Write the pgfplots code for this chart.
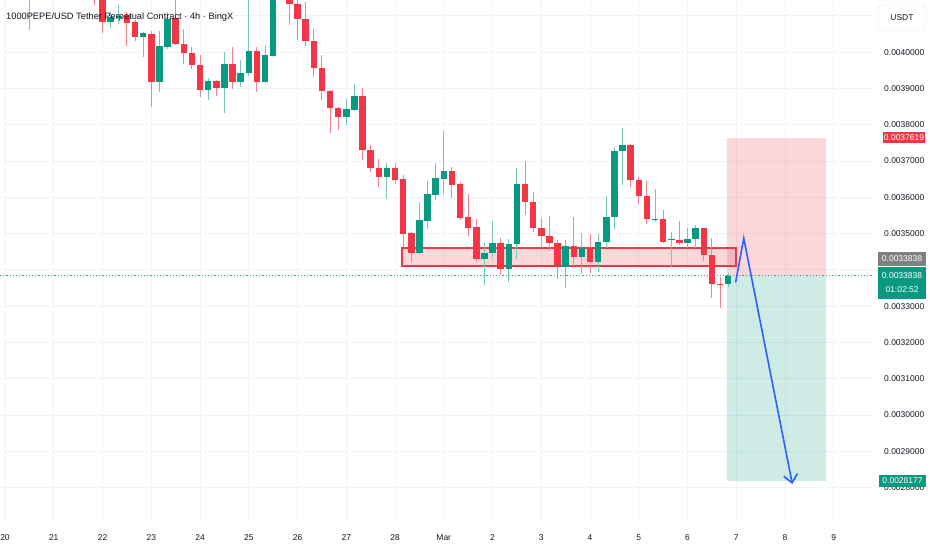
\documentclass[border=0pt]{standalone}
\usepackage{pgfplots}
\pgfplotsset{compat=1.18}
\usepackage{pgfplotstable}
\usepackage{fontspec}
\setmainfont{Liberation Sans}
\usetikzlibrary{arrows.meta}
\definecolor{tvred}{HTML}{F23645}
\definecolor{tvgreen}{HTML}{089981}
\definecolor{wickR}{HTML}{F5828C}
\definecolor{wickG}{HTML}{74C7B4}
\definecolor{gridc}{HTML}{F0F3FA}
\definecolor{txt}{HTML}{131722}
\definecolor{tvblue}{HTML}{2962FF}
\definecolor{tvgray}{HTML}{808080}
\definecolor{boxc}{HTML}{E0E3EB}
\definecolor{dotc}{HTML}{22A88E}

% t = hours since Feb 20 00:00 (4h candles); o h l c = open high low close (USDT)
\pgfplotstableread{
t o h l c
0 0.0042260 0.0042948 0.0041984 0.0042673
4 0.0042673 0.0042811 0.0042122 0.0042397
8 0.0042397 0.0043086 0.0042204 0.0042811
12 0.0041709 0.0042811 0.0040606 0.0042535
16 0.0042535 0.0042673 0.0041764 0.0041984
20 0.0041984 0.0042948 0.0041846 0.0042673
24 0.0042673 0.0042811 0.0041929 0.0042122
28 0.0042122 0.0042260 0.0041571 0.0041709
32 0.0041709 0.0042397 0.0041543 0.0042260
36 0.0042260 0.0042480 0.0041653 0.0041846
40 0.0041846 0.0042342 0.0041598 0.0042122
44 0.0042122 0.0042260 0.0041295 0.0041653
48 0.0041571 0.0041709 0.0040524 0.0040827
52 0.0040827 0.0041102 0.0040662 0.0040965
56 0.0040937 0.0041295 0.0040772 0.0040992
60 0.0041020 0.0041102 0.0040166 0.0040799
64 0.0040827 0.0040882 0.0040303 0.0040414
68 0.0040414 0.0040551 0.0039863 0.0040524
72 0.0040496 0.0040579 0.0038485 0.0039174
76 0.0039174 0.0040579 0.0038898 0.0040166
80 0.0040138 0.0041102 0.0040083 0.0040910
84 0.0040937 0.0041571 0.0040193 0.0040221
88 0.0040221 0.0040634 0.0039670 0.0039973
92 0.0039973 0.0040138 0.0039532 0.0039642
96 0.0039642 0.0039918 0.0038761 0.0038953
100 0.0038953 0.0039284 0.0038678 0.0039201
104 0.0039201 0.0039229 0.0038788 0.0039009
108 0.0039009 0.0040000 0.0038320 0.0039670
112 0.0039670 0.0040138 0.0038981 0.0039174
116 0.0039174 0.0039780 0.0039036 0.0039422
120 0.0039422 0.0041571 0.0039339 0.0040028
124 0.0040028 0.0040138 0.0038898 0.0039174
128 0.0039174 0.0040193 0.0039146 0.0039918
132 0.0039890 0.0042122 0.0039863 0.0041846
136 0.0041846 0.0042260 0.0041488 0.0041571
140 0.0041571 0.0041709 0.0040744 0.0041323
144 0.0041323 0.0041488 0.0040331 0.0040910
148 0.0040910 0.0041378 0.0040166 0.0040303
152 0.0040303 0.0040634 0.0039312 0.0039560
156 0.0039560 0.0039918 0.0038678 0.0038926
160 0.0038926 0.0038953 0.0037769 0.0038458
164 0.0038458 0.0038485 0.0037851 0.0038210
168 0.0038210 0.0038706 0.0037989 0.0038430
172 0.0038402 0.0039119 0.0038375 0.0038788
176 0.0038788 0.0039009 0.0037025 0.0037300
180 0.0037300 0.0037438 0.0036694 0.0036805
184 0.0036805 0.0037053 0.0036281 0.0036557
188 0.0036557 0.0036942 0.0035951 0.0036805
192 0.0036805 0.0036942 0.0036364 0.0036474
196 0.0036502 0.0036612 0.0034628 0.0034986
200 0.0035014 0.0035041 0.0034215 0.0034463
204 0.0034463 0.0035868 0.0034435 0.0035372
208 0.0035344 0.0036446 0.0035124 0.0036088
212 0.0036061 0.0036942 0.0035923 0.0036529
216 0.0036502 0.0037824 0.0036088 0.0036722
220 0.0036722 0.0036832 0.0035978 0.0036336
224 0.0036364 0.0036419 0.0035372 0.0035427
228 0.0035455 0.0036088 0.0034931 0.0035152
232 0.0035179 0.0035400 0.0034215 0.0034298
236 0.0034298 0.0034738 0.0033581 0.0034463
240 0.0034463 0.0035344 0.0034353 0.0034738
244 0.0034738 0.0034876 0.0033857 0.0034022
248 0.0034022 0.0034849 0.0033664 0.0034711
252 0.0034711 0.0036805 0.0034298 0.0036364
256 0.0036364 0.0036997 0.0035510 0.0035868
260 0.0035868 0.0036143 0.0035041 0.0035152
264 0.0035152 0.0035427 0.0034601 0.0034931
268 0.0034931 0.0035482 0.0034518 0.0034738
272 0.0034738 0.0034821 0.0033747 0.0034077
276 0.0034077 0.0034821 0.0033499 0.0034656
280 0.0034656 0.0035455 0.0034105 0.0034353
284 0.0034353 0.0035014 0.0033884 0.0034601
288 0.0034601 0.0034986 0.0033912 0.0034215
292 0.0034215 0.0034986 0.0033939 0.0034766
296 0.0034766 0.0036033 0.0034601 0.0035455
300 0.0035455 0.0037383 0.0035124 0.0037273
304 0.0037273 0.0037907 0.0036336 0.0037438
308 0.0037438 0.0037466 0.0036281 0.0036474
312 0.0036474 0.0036557 0.0035813 0.0036033
316 0.0036033 0.0036446 0.0035262 0.0035400
320 0.0035372 0.0036226 0.0035317 0.0035400
324 0.0035400 0.0035647 0.0034738 0.0034766
328 0.0034821 0.0035041 0.0034077 0.0034849
332 0.0034821 0.0035344 0.0034683 0.0034738
336 0.0034738 0.0035152 0.0034601 0.0034849
340 0.0034849 0.0035234 0.0034601 0.0035152
344 0.0035152 0.0035160 0.0034242 0.0034408
348 0.0034408 0.0034876 0.0033223 0.0033609
352 0.0033609 0.0033802 0.0032948 0.0033581
356 0.0033609 0.0033912 0.0033526 0.0033838
}\candles

\begin{document}
\begin{tikzpicture}
\useasboundingbox (0,0) rectangle (932bp,550bp);
\begin{axis}[
  at={(0,28bp)}, anchor=south west,
  scale only axis, width=872bp, height=522bp,
  xmin=-2.4615, xmax=426.83,
  ymin=0.0027052, ymax=0.0041433,
  axis line style={draw=none},
  tick style={draw=none},
  major tick length=0pt,
  grid=major, grid style={draw=gridc, line width=0.8bp},
  xtick={0,24,48,72,96,120,144,168,192,216,240,264,288,312,336,360,384,408},
  xticklabels={20,21,22,23,24,25,26,27,28,Mar,2,3,4,5,6,7,8,9},
  ytick={0.0028,0.0029,0.0030,0.0031,0.0032,0.0033,0.0034,0.0035,0.0036,0.0037,0.0038,0.0039,0.0040,0.0041},
  yticklabels={0.0028000,0.0029000,0.0030000,0.0031000,0.0032000,0.0033000,{},0.0035000,0.0036000,0.0037000,0.0038000,0.0039000,0.0040000,{}},
  scaled y ticks=false, scaled x ticks=false,
  yticklabel pos=right,
  /pgf/number format/assume math mode=true,
  yticklabel style={anchor=base west, inner sep=0pt, xshift=12bp, yshift=-3bp, font=\fontsize{8.5}{10}\selectfont, text=txt},
  xticklabel style={anchor=base, inner sep=0pt, yshift=-18bp, font=\fontsize{8.5}{10}\selectfont, text=txt},
]
% position tool (short)
\addplot[draw=none, fill=tvred, fill opacity=0.2] coordinates {(355.4,0.0033838)(404.0,0.0033838)(404.0,0.0037619)(355.4,0.0037619)} --cycle;
\addplot[draw=none, fill=tvgreen, fill opacity=0.2] coordinates {(355.4,0.0028177)(404.0,0.0028177)(404.0,0.0033838)(355.4,0.0033838)} --cycle;
% support zone
\addplot[draw=tvred, line width=1.8bp, fill=tvred, fill opacity=0.2] coordinates {(195.3,0.0034105)(359.7,0.0034105)(359.7,0.0034609)(195.3,0.0034609)} --cycle;

% wicks
\addplot[draw=none, mark=none, restrict expr to domain={\thisrow{c}-\thisrow{o}}{0:1},
  error bars/.cd, y dir=plus, y explicit, error mark=none, error bar style={draw=wickG, line width=1bp}]
  table[x=t, y=l, y error plus expr=\thisrow{h}-\thisrow{l}] {\candles};
\addplot[draw=none, mark=none, restrict expr to domain={\thisrow{c}-\thisrow{o}}{-1:0},
  error bars/.cd, y dir=plus, y explicit, error mark=none, error bar style={draw=wickR, line width=1bp}]
  table[x=t, y=l, y error plus expr=\thisrow{h}-\thisrow{l}] {\candles};
% bodies
\addplot[draw=none, mark=none, restrict expr to domain={\thisrow{c}-\thisrow{o}}{0:1},
  error bars/.cd, y dir=both, y explicit, error mark=none, error bar style={draw=tvgreen, line width=6.5bp, line cap=butt}]
  table[x=t, y expr=(\thisrow{o}+\thisrow{c})/2, y error expr=abs(\thisrow{c}-\thisrow{o})/2] {\candles};
\addplot[draw=none, mark=none, restrict expr to domain={\thisrow{c}-\thisrow{o}}{-1:0},
  error bars/.cd, y dir=both, y explicit, error mark=none, error bar style={draw=tvred, line width=6.5bp, line cap=butt}]
  table[x=t, y expr=(\thisrow{o}+\thisrow{c})/2, y error expr=abs(\thisrow{c}-\thisrow{o})/2] {\candles};

% current price line
\addplot[dotc, line width=1bp, dash pattern=on 1.2bp off 2bp] coordinates {(-2.4615,0.0033838)(426.83,0.0033838)};
% projected path
\addplot[tvblue, line width=1.6bp, -{Straight Barb[length=8bp, width=14bp]}] coordinates {(359.7,0.0033656)(363.7,0.0034868)(387.6,0.0028099)};
\end{axis}

\begin{scope}[font=\fontsize{8.5}{10}\selectfont]
\node[anchor=west, font=\fontsize{9.3}{11}\selectfont, text=txt, inner sep=0pt] at (6bp,533bp) {1000PEPE/USD Tether Perpetual Contract · 4h · BingX};
\draw[draw=boxc, rounded corners=3bp, fill=white] (878bp,545bp) rectangle (926bp,520bp);
\node[text=txt] at (902bp,532.5bp) {USDT};
\fill[tvred] (883bp,417.5bp) rectangle (925bp,406.5bp);
\node[text=white, inner sep=0pt] at (904bp,412bp) {0.0037619};
\fill[tvgray] (878bp,298.3bp) rectangle (926bp,284bp);
\node[text=white, inner sep=0pt] at (902bp,291bp) {0.0033838};
\fill[tvgreen] (878bp,282.7bp) rectangle (926bp,250.7bp);
\node[text=white, inner sep=0pt] at (902bp,274bp) {0.0033838};
\node[text=white, inner sep=0pt] at (902bp,260bp) {01:02:52};
\fill[tvgreen] (879bp,75bp) rectangle (926bp,63bp);
\node[text=white, inner sep=0pt] at (902.5bp,69bp) {0.0028177};
\end{scope}
\end{tikzpicture}
\end{document}
